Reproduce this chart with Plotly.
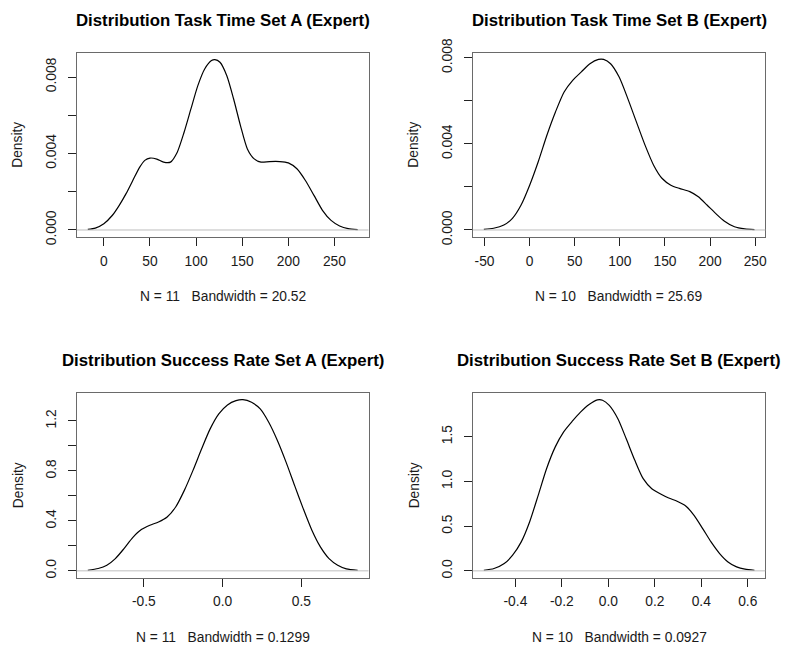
import plotly.graph_objects as go

# Kernel density estimates (x, density) for each panel
task_a_x = [-17.4, -9.3, 0, 9.3, 16.7, 24.1, 31.5, 38.9, 44.4, 50, 57.4, 64.8, 72.2, 79.6, 87,
            94.4, 101.9, 109.3, 116.7, 120.4, 125.9, 133.3, 140.7, 148.1, 155.6, 163, 170.4,
            179.6, 190.7, 200, 209.3, 218.5, 227.8, 237, 246.3, 255.6, 264.8, 275.2]
task_a_y = [0.00003, 0.0001, 0.00033, 0.00077, 0.00129, 0.0019, 0.0026, 0.00329, 0.00364,
            0.00376, 0.00371, 0.00355, 0.00355, 0.00407, 0.00511, 0.00633, 0.00755, 0.00842,
            0.00886, 0.00891, 0.00877, 0.00807, 0.00685, 0.00546, 0.00424, 0.00372, 0.00355,
            0.00358, 0.00358, 0.00351, 0.0032, 0.00259, 0.00181, 0.00103, 0.0005, 0.00021,
            0.00007, 0.00002]

task_b_x = [-50.8, -40, -28.6, -19.1, -9.5, 0, 9.5, 19.1, 28.6, 38.2, 47.7, 57.3, 66.8, 76.3,
            82, 89.7, 99.2, 108.8, 118.3, 127.9, 137.4, 146.9, 156.5, 166, 177.5, 187, 196.6,
            206.1, 215.6, 227, 238.5, 249.2]
task_b_y = [0.00003, 0.00008, 0.00023, 0.00054, 0.00116, 0.00208, 0.00317, 0.0044, 0.00548,
            0.00641, 0.00695, 0.00734, 0.00772, 0.00792, 0.00792, 0.00772, 0.0071, 0.0061,
            0.00502, 0.00394, 0.00301, 0.00239, 0.00208, 0.00193, 0.00178, 0.00154, 0.00116,
            0.00077, 0.00042, 0.00015, 0.00005, 0.00002]

succ_a_x = [-0.856, -0.790, -0.735, -0.681, -0.626, -0.571, -0.516, -0.462, -0.407, -0.352,
            -0.298, -0.243, -0.188, -0.133, -0.079, -0.024, 0.031, 0.085, 0.129, 0.184, 0.239,
            0.293, 0.348, 0.403, 0.457, 0.512, 0.567, 0.621, 0.676, 0.731, 0.786, 0.858]
succ_a_y = [0.005, 0.019, 0.045, 0.098, 0.178, 0.266, 0.33, 0.365, 0.391, 0.431, 0.511, 0.644,
            0.804, 0.977, 1.136, 1.256, 1.328, 1.362, 1.37, 1.349, 1.296, 1.189, 1.043, 0.87,
            0.684, 0.498, 0.325, 0.192, 0.098, 0.045, 0.016, 0.005]

succ_b_x = [-0.536, -0.492, -0.448, -0.412, -0.375, -0.339, -0.302, -0.266, -0.229, -0.193,
            -0.156, -0.120, -0.083, -0.047, -0.025, 0.004, 0.041, 0.077, 0.114, 0.150, 0.187,
            0.223, 0.260, 0.296, 0.333, 0.369, 0.406, 0.442, 0.479, 0.515, 0.552, 0.588, 0.629]
succ_b_y = [0.007, 0.026, 0.082, 0.175, 0.324, 0.547, 0.845, 1.143, 1.384, 1.552, 1.671, 1.775,
            1.861, 1.913, 1.909, 1.85, 1.701, 1.477, 1.236, 1.031, 0.919, 0.863, 0.815, 0.778,
            0.726, 0.621, 0.473, 0.324, 0.194, 0.1, 0.045, 0.019, 0.007]

titles = ["Distribution Task Time Set A (Expert)", "Distribution Task Time Set B (Expert)",
          "Distribution Success Rate Set A (Expert)", "Distribution Success Rate Set B (Expert)"]
GAP = "\u00a0\u00a0\u00a0"
subtitles = [f"N = 11{GAP}Bandwidth = 20.52", f"N = 10{GAP}Bandwidth = 25.69",
             f"N = 11{GAP}Bandwidth = 0.1299", f"N = 10{GAP}Bandwidth = 0.0927"]

x_ticks = [[0, 50, 100, 150, 200, 250],
           [-50, 0, 50, 100, 150, 200, 250],
           [-0.5, 0.0, 0.5],
           [-0.4, -0.2, 0.0, 0.2, 0.4, 0.6]]
x_ticktext = [["0", "50", "100", "150", "200", "250"],
              ["-50", "0", "50", "100", "150", "200", "250"],
              ["-0.5", "0.0", "0.5"],
              ["-0.4", "-0.2", "0.0", "0.2", "0.4", "0.6"]]
y_ticks = [[0, 0.002, 0.004, 0.006, 0.008],
           [0, 0.002, 0.004, 0.006, 0.008],
           [0, 0.2, 0.4, 0.6, 0.8, 1.0, 1.2],
           [0, 0.5, 1.0, 1.5]]
y_ticktext = [["0.000", "", "0.004", "", "0.008"],
              ["0.000", "", "0.004", "", "0.008"],
              ["0.0", "", "0.4", "", "0.8", "", "1.2"],
              ["0.0", "0.5", "1.0", "1.5"]]

series = [(task_a_x, task_a_y), (task_b_x, task_b_y), (succ_a_x, succ_a_y), (succ_b_x, succ_b_y)]

W, H = 786, 649
FONT = "Liberation Sans, Arial, sans-serif"
TEXT = "#1a1a1a"

# plot-box positions in pixels: (left, right, top, bottom)
boxes = [(77, 368.5, 52.8, 236.8), (473, 765.3, 52.6, 236.8),
         (77, 368.5, 392.8, 577.7), (473, 765.3, 393.0, 577.7)]

fig = go.Figure()
annotations = []
shapes = []

for i, ((xs, ys), (l, r, t, b)) in enumerate(zip(series, boxes)):
    n = i + 1
    xa = "x" if n == 1 else f"x{n}"
    ya = "y" if n == 1 else f"y{n}"
    fig.add_trace(go.Scatter(x=xs, y=ys, mode="lines", xaxis=xa, yaxis=ya,
                             line=dict(color="black", width=1.2, shape="spline", smoothing=0.7),
                             showlegend=False, hoverinfo="skip"))

    # R-style 4% padding around the data range
    xmin, xmax = min(xs), max(xs)
    ymin, ymax = 0.0, max(ys)
    dx, dy = (xmax - xmin) * 0.04, (ymax - ymin) * 0.04
    common = dict(showgrid=False, zeroline=False, showline=True, mirror=True,
                  automargin=False,
                  linecolor="#6a6a6a", linewidth=1.4, ticks="outside", ticklen=8,
                  tickcolor="#222222", tickwidth=1,
                  tickfont=dict(family=FONT, size=13.8, color=TEXT))
    fig.update_layout(**{
        ("xaxis" if n == 1 else f"xaxis{n}"): dict(
            domain=[l / W, r / W], anchor=ya, range=[xmin - dx, xmax + dx],
            tickmode="array", tickvals=x_ticks[i], ticktext=x_ticktext[i],
            ticklabelstandoff=3, **common),
        ("yaxis" if n == 1 else f"yaxis{n}"): dict(
            domain=[1 - b / H, 1 - t / H], anchor=xa, range=[ymin - dy, ymax + dy],
            tickmode="array", tickvals=y_ticks[i], ticktext=y_ticktext[i],
            tickangle=-90, ticklabelstandoff=6, **common),
    })

    # grey baseline at density zero
    shapes.append(dict(type="line", xref=f"{xa} domain", yref=ya, x0=0, x1=1, y0=0, y1=0,
                       line=dict(color="#BEBEBE", width=1)))

    cx = (l + r) / 2 / W
    annotations.append(dict(text=f"<b>{titles[i]}</b>", xref="paper", yref="paper",
                            x=cx, y=1 - (t - 32.5) / H, showarrow=False,
                            font=dict(family=FONT, size=16.8, color="black"),
                            xanchor="center", yanchor="middle"))
    annotations.append(dict(text=subtitles[i], xref="paper", yref="paper",
                            x=cx, y=1 - (b + 60) / H, showarrow=False,
                            font=dict(family=FONT, size=13.8, color=TEXT),
                            xanchor="center", yanchor="middle"))
    annotations.append(dict(text="Density", xref="paper", yref="paper",
                            x=(l - 59) / W, y=1 - (t + b) / 2 / H, showarrow=False,
                            textangle=-90,
                            font=dict(family=FONT, size=13.8, color=TEXT),
                            xanchor="center", yanchor="middle"))

fig.update_layout(width=W, height=H, margin=dict(l=0, r=0, t=0, b=0),
                  paper_bgcolor="white", plot_bgcolor="white",
                  annotations=annotations, shapes=shapes)

fig.write_html("out.html")
